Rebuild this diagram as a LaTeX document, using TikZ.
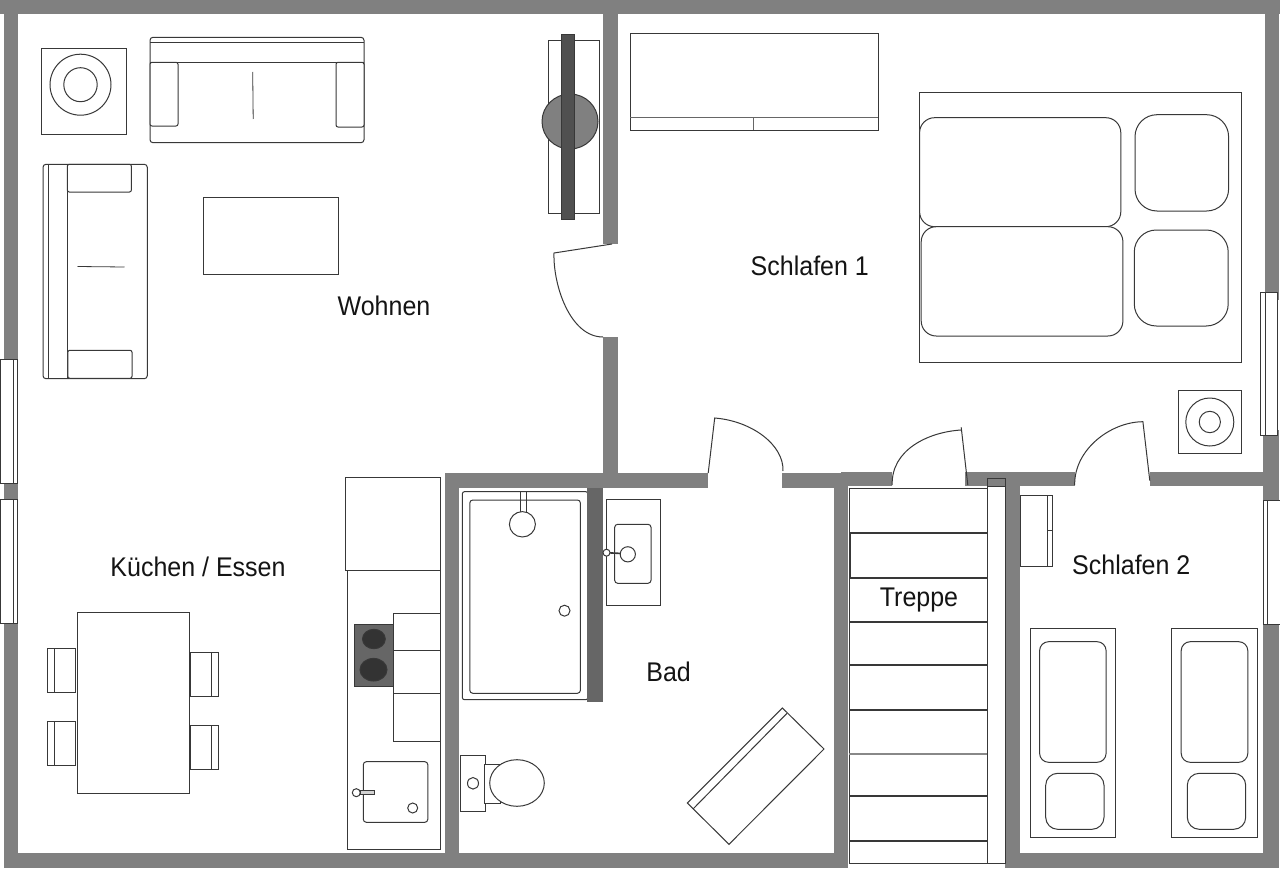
\documentclass[tikz,border=0pt]{standalone}
\usepackage{fontspec}
\setmainfont{Liberation Sans}
\definecolor{wallgray}{HTML}{808080}
\definecolor{ink}{HTML}{383838}
\definecolor{barlt}{HTML}{666666}
\definecolor{bardk}{HTML}{505050}
\definecolor{burner}{HTML}{333333}
\tikzset{
  wall/.style={fill=wallgray,draw=none},
  item/.style={draw=ink,line width=1.0pt,fill=white},
  line/.style={draw=ink,line width=1.0pt},
  thinl/.style={draw=ink,line width=0.8pt},
  stepline/.style={draw=ink,line width=2pt},
  room/.style={font=\fontsize{25}{25}\selectfont,text=black!92,inner sep=0pt,yscale=1.08},
}
\begin{document}
\begin{tikzpicture}[x=1pt,y=-1pt]
\useasboundingbox (0,0) rectangle (1280,875);
\fill[white] (0,0) rectangle (1280,875);
% ---- walls
\fill[wall] (0,0) rectangle (1280,14.5);
\fill[wall] (4,0) rectangle (18,868);
\fill[wall] (4,853.3) rectangle (848,868);
\fill[wall] (1005.5,853.3) rectangle (1279,868);
\fill[wall] (1265.3,0) rectangle (1279,300);
\fill[wall] (1263,430) rectangle (1279,868);
\fill[wall] (603,0) rectangle (617.5,244);
\fill[wall] (603,337) rectangle (617.5,485);
\fill[wall] (444.5,473.3) rectangle (708.2,487.7);
\fill[wall] (782.4,473.3) rectangle (841,487.7);
\fill[wall] (841,471.7) rectangle (891.8,486);
\fill[wall] (965.3,471.7) rectangle (1075,486);
\fill[wall] (1149.8,471.7) rectangle (1279,486);
\fill[wall] (444.5,473.3) rectangle (459,868);
\fill[wall] (834.3,473.3) rectangle (848,868);
\fill[wall] (1005.3,472) rectangle (1020.4,868);
% ---- windows
\draw[item] (0,359) rectangle (17.5,483);
\draw[line] (13.5,359) -- (13.5,483);
\draw[item] (0,499) rectangle (17.5,623);
\draw[line] (13.5,499) -- (13.5,623);
\draw[item] (1260.4,292.7) rectangle (1277.6,435);
\draw[line] (1265.7,292.7) -- (1265.7,435);
\draw[item] (1263.3,500.7) rectangle (1280,624.3);
\draw[line] (1267,500.7) -- (1267,624.3);
% ---- doors
\draw[line] (612,244) -- (554,253) .. controls (553,285) and (570,337) .. (603,337);
\draw[line] (708.2,473) -- (714.7,418) .. controls (752,421) and (784,445) .. (783,471);
\draw[line] (967.8,485) -- (961.2,427.3);
\draw[line] (961.2,430) .. controls (928,432) and (891,450) .. (892.2,485);
\draw[line] (1149.8,480.7) -- (1142.9,421.7) .. controls (1110,422) and (1074,450) .. (1074.7,485);
% ---- lamp 1
\draw[item] (41,49) rectangle (126.5,134.7);
\draw[line] (80.5,84.7) ellipse [x radius=30.5,y radius=30.5];
\draw[line] (80.5,84.7) ellipse [x radius=16.7,y radius=17];
% ---- sofa top
\draw[item,rounded corners=3] (150,37.3) rectangle (364,142.7);
\draw[line] (150,43) -- (364,43);
\draw[line] (150,62.3) -- (364,62.3);
\draw[item,rounded corners=2] (150,62.3) rectangle (178,126);
\draw[item,rounded corners=2] (336,62.3) rectangle (364,127);
\draw[thinl] (252.7,72) -- (253.2,119);
% ---- sofa left
\draw[item,rounded corners=3] (43,164.3) rectangle (147.3,378.7);
\draw[line] (48.6,164.3) -- (48.6,378.7);
\draw[line] (67.3,164.3) -- (67.3,378.7);
\draw[item,rounded corners=2] (67.3,164.3) rectangle (131.4,192);
\draw[item,rounded corners=2] (67.8,350.3) rectangle (132,378.3);
\draw[thinl] (77.5,266.5) -- (124.5,267);
% ---- coffee table
\draw[item] (203,197) rectangle (338,274);
% ---- TV
\draw[item] (548.6,40.7) rectangle (599.6,213.7);
\draw[line,fill=wallgray] (570,121.5) ellipse [x radius=28,y radius=27.5];
\draw[line,fill=bardk] (561.6,35) rectangle (574.3,219.7);
% ---- wardrobe
\draw[item] (630,33.3) rectangle (878.4,130.3);
\draw[line,draw=black!60] (630,117.7) -- (878.4,117.7);
\draw[line,draw=black!60] (753.9,117.7) -- (753.9,130.3);
% ---- double bed
\draw[item] (919.2,92.3) rectangle (1241.2,362.3);
\draw[item,rounded corners=15] (919.6,117.7) rectangle (1120.8,226.7);
\draw[item,rounded corners=15] (921.2,226.7) rectangle (1122.9,336);
\draw[item,rounded corners=22] (1135,114.7) rectangle (1228.6,211);
\draw[item,rounded corners=22] (1134.3,230) rectangle (1228.2,326);
% ---- lamp 2
\draw[item] (1178.4,390.3) rectangle (1241.2,453.3);
\draw[line] (1209.8,422) ellipse [x radius=24,y radius=24];
\draw[line] (1209.8,422) ellipse [x radius=10.6,y radius=10.7];
% ---- dining table
\draw[item] (47.3,648.3) rectangle (75.5,692.3);
\draw[line] (54.3,648.3) -- (54.3,692.3);
\draw[item] (47.3,721) rectangle (75.5,765);
\draw[line] (54.3,721) -- (54.3,765);
\draw[item] (190.2,652.7) rectangle (218.8,696.7);
\draw[line] (211.8,652.7) -- (211.8,696.7);
\draw[item] (190.2,725.3) rectangle (218.8,769.3);
\draw[line] (211.8,725.3) -- (211.8,769.3);
\draw[item] (77.1,612.3) rectangle (189,793.3);
% ---- kitchen
\draw[item] (347.3,570.7) rectangle (440.4,849.7);
\draw[item] (345,477) rectangle (440.4,570.7);
\draw[item] (393,613.3) rectangle (440.4,650.3);
\draw[item] (393,650.3) rectangle (440.4,693);
\draw[item] (393,693) rectangle (440.4,741.3);
\draw[line,fill=barlt] (354.3,624) rectangle (393,686.7);
\draw[line,fill=burner] (373.9,639) ellipse [x radius=11.4,y radius=9.7];
\draw[line,fill=burner] (373.5,669.7) ellipse [x radius=13.5,y radius=11.3];
\draw[item,rounded corners=3] (363.3,761.7) rectangle (427.8,822.3);
\draw[item,fill=barlt!30] (360.8,790.7) rectangle (374.7,794.7);
\draw[item] (356.3,792.7) circle [radius=4];
\draw[item] (412.7,808) circle [radius=5];
% ---- bathroom: tub
\draw[item,rounded corners=2] (462.4,491.7) rectangle (587.8,699.7);
\draw[item,rounded corners=3] (469.8,500) rectangle (580.4,693.3);
\draw[thinl] (520.4,491.7) -- (520.4,511.7);
\draw[thinl] (526.1,491.7) -- (526.1,511.7);
\draw[item] (522.4,524.3) ellipse [x radius=13,y radius=12.7];
\draw[item] (564.5,610.7) circle [radius=5.5];
\fill[barlt] (587.3,488.3) rectangle (602.9,701.7);
% ---- bathroom: basin
\draw[item] (606.5,499.3) rectangle (660.4,605.7);
\draw[item,rounded corners=3] (614.7,524.3) rectangle (651,583.3);
\draw[line,line width=1.6pt] (606.5,552.7) -- (622,553.5);
\draw[item] (606.5,552.7) circle [radius=3.5];
\draw[item] (627.8,554.3) circle [radius=7.6];
% ---- WC
\draw[item] (460.4,755.7) rectangle (485.7,811.7);
\draw[item] (473,783.3) ellipse [x radius=5.5,y radius=5.8];
\draw[item] (484.5,764.3) rectangle (500.8,803.3);
\draw[item] (517,783) ellipse [x radius=27.3,y radius=23.3];
% ---- angled unit
\draw[item] (782.4,708) -- (824,749) -- (729,844.3) -- (687.3,803) -- cycle;
\draw[line] (787,713.3) -- (693,809);
% ---- stairs
\draw[item] (849.4,488.3) rectangle (987.8,863);
\draw[item,fill=none] (850.5,533.3) rectangle (989.4,577.7);
\draw[stepline] (849.4,533.3) -- (989.4,533.3);
\draw[stepline] (849.4,577.7) -- (989.4,577.7);
\draw[stepline] (849.4,622) -- (987.8,622);
\draw[stepline] (849.4,665) -- (987.8,665);
\draw[stepline] (849.4,710) -- (987.8,710);
\draw[stepline,draw=ink!60] (849.4,754) -- (987.8,754);
\draw[stepline] (849.4,796.3) -- (987.8,796.3);
\draw[stepline] (849.4,841) -- (987.8,841);
\draw[item] (987.8,486) rectangle (1005.5,863);
\draw[line,fill=wallgray] (987.8,478.3) rectangle (1005.5,486);
% ---- closet bedroom 2
\draw[item] (1020.4,495) rectangle (1052.7,566);
\draw[line] (1047.3,495) -- (1047.3,566);
\draw[line] (1047.3,530) -- (1052.7,530);
% ---- single beds
\draw[item] (1030.2,628.3) rectangle (1115.5,837.7);
\draw[item,rounded corners=9] (1039.6,641.7) rectangle (1106.1,762.3);
\draw[item,rounded corners=12] (1045.7,773.3) rectangle (1104,829.3);
\draw[item] (1171.8,628.3) rectangle (1257.1,837.7);
\draw[item,rounded corners=9] (1181.2,641.7) rectangle (1247.8,762.3);
\draw[item,rounded corners=12] (1187.3,773.3) rectangle (1245.7,829.3);
% ---- labels
\node[room] (wohnen) at (384,305.5) {Wohnen};
\node[room] (schlafen1) at (809.8,265.8) {Schlafen 1};
\node[room] (kueche) at (198,566.8) {Küchen / Essen};
\node[room] (bad) at (668.6,672) {Bad};
\node[room] (treppe) at (919,600.5) {Treppe};
\node[room] (schlafen2) at (1131.3,564.8) {Schlafen 2};
\end{tikzpicture}
\end{document}
